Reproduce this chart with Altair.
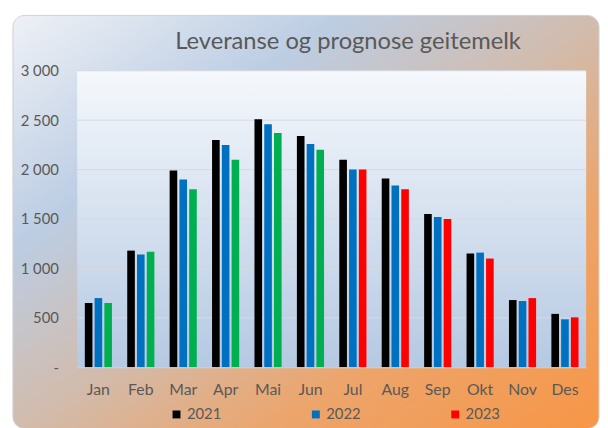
import altair as alt
import pandas as pd

months = ["Jan", "Feb", "Mar", "Apr", "Mai", "Jun", "Jul", "Aug", "Sep", "Okt", "Nov", "Des"]
v2021 = [650, 1180, 1990, 2300, 2510, 2340, 2100, 1910, 1550, 1150, 680, 540]
v2022 = [700, 1140, 1900, 2250, 2460, 2260, 2000, 1840, 1520, 1160, 670, 485]
v2023 = [650, 1170, 1800, 2100, 2370, 2200, 2000, 1800, 1500, 1100, 700, 505]
years = ["2021", "2022", "2023"]
green_months_2023 = ["Jan", "Feb", "Mar", "Apr", "Mai", "Jun"]
y_ticks = [0, 500, 1000, 1500, 2000, 2500, 3000]
title_text = "Leveranse og prognose geitemelk"

rows = []
for y, vals in zip(years, [v2021, v2022, v2023]):
    for m, v in zip(months, vals):
        key = y
        if y == "2023" and m in green_months_2023:
            key = "2023g"
        rows.append({"Måned": m, "År": y, "Farge": key, "Verdi": v})
df = pd.DataFrame(rows)
grid_df = pd.DataFrame({"Verdi": [t for t in y_ticks if t > 0]})

W, H = 515, 300
GREY = "#595959"
FONT = "Lato"

outer_grad = alt.LinearGradient(
    gradient="linear", x1=0, y1=0, x2=1, y2=1,
    stops=[
        alt.GradientStop(offset=0, color="#eef1f6"),
        alt.GradientStop(offset=0.28, color="#bccde3"),
        alt.GradientStop(offset=0.5, color="#d1bcae"),
        alt.GradientStop(offset=0.72, color="#eca56c"),
        alt.GradientStop(offset=1, color="#f79646"),
    ],
)
plot_grad = alt.LinearGradient(
    gradient="linear", x1=0, y1=0, x2=0, y2=1,
    stops=[
        alt.GradientStop(offset=0, color="#f5f8fc"),
        alt.GradientStop(offset=1, color="#b5c9e2"),
    ],
)

dummy = alt.Data(values=[{"a": 1}])
yscale = alt.Scale(domain=[0, 3000])

outer = alt.Chart(dummy).mark_rect(
    fill=outer_grad, cornerRadius=12, stroke="#d0d0d0", strokeWidth=1
).encode(
    x=alt.value(-65), x2=alt.value(528), y=alt.value(-56), y2=alt.value(362)
)

plotbg = alt.Chart(dummy).mark_rect(fill=plot_grad).encode(
    x=alt.value(0), x2=alt.value(W), y=alt.value(0), y2=alt.value(H)
)

grid = alt.Chart(grid_df).mark_rule(color="#d6dae0", strokeWidth=1).encode(
    y=alt.Y("Verdi:Q", scale=yscale), x=alt.value(0), x2=alt.value(W)
)

title = alt.Chart(dummy).mark_text(
    fontSize=24, color=GREY, font=FONT, align="center", baseline="alphabetic"
).encode(x=alt.value(274), y=alt.value(-22), text=alt.value(title_text))

bars = alt.Chart(df).mark_bar().encode(
    x=alt.X("Måned:N", sort=months,
            scale=alt.Scale(paddingInner=0.36, paddingOuter=0.18),
            axis=alt.Axis(title=None, labelAngle=0, labelFontSize=16, labelColor=GREY,
                          labelFont=FONT, ticks=False, domain=True, domainColor="#d0d4da",
                          labelPadding=15, grid=False, zindex=1)),
    xOffset=alt.XOffset("År:N", sort=years, scale=alt.Scale(paddingInner=0.22)),
    y=alt.Y("Verdi:Q", scale=yscale,
            axis=alt.Axis(title=None, values=y_ticks,
                          labelExpr="datum.value == 0 ? '-' : replace(format(datum.value, ','), ',', ' ')",
                          labelFontSize=15, labelColor=GREY, labelFont=FONT,
                          ticks=False, domain=False, labelPadding=19,
                          grid=False, zindex=1)),
    color=alt.Color("Farge:N",
                    scale=alt.Scale(domain=["2021", "2022", "2023", "2023g"],
                                    range=["#000000", "#0070C0", "#FF0000", "#00B050"]),
                    legend=alt.Legend(values=["2021", "2022", "2023"], title=None,
                                      orient="none", legendX=93, legendY=340,
                                      direction="horizontal", columnPadding=88,
                                      symbolType="square", symbolSize=64,
                                      symbolStrokeWidth=0, labelFontSize=15,
                                      labelColor=GREY, labelFont=FONT, labelOffset=3,
                                      zindex=1)),
)

chart = alt.layer(outer, plotbg, grid, title, bars).properties(
    width=W, height=H,
    padding={"left": 4, "top": 4, "right": 0, "bottom": 0},
).configure_view(stroke=None).configure(background="white")

chart.save("out.html", embed_options={"renderer": "svg", "actions": False})
